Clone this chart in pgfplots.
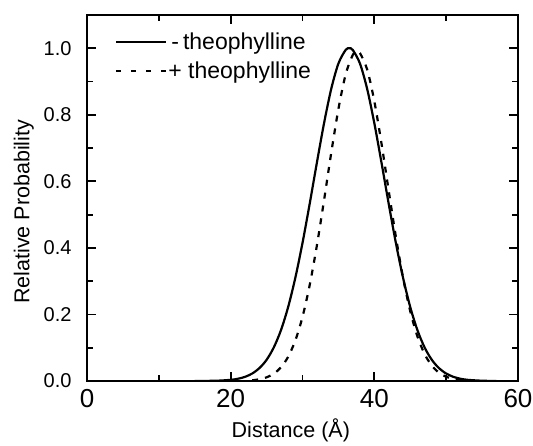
\documentclass[border=0pt]{standalone}
\usepackage{fontspec}
\setmainfont{Liberation Sans}
\usepackage{pgfplots}
\pgfplotsset{compat=1.18}
\usetikzlibrary{calc}

\pgfplotstableread{
x y
15 0.0001
18 0.0008
20 0.0035
21 0.0067
22 0.0125
23 0.0225
24 0.0386
25 0.0637
26 0.1007
27 0.1527
28 0.2221
29 0.3100
30 0.4148
31 0.5326
32 0.6559
33 0.7748
34 0.8780
35 0.9542
36 0.9948
36.5 1.0000
37 0.9948
38 0.9542
39 0.8780
40 0.7748
41 0.6559
42 0.5326
43 0.4148
44 0.3100
45 0.2221
46 0.1527
47 0.1007
48 0.0637
49 0.0386
50 0.0225
51 0.0125
52 0.0067
53 0.0035
55 0.0008
57 0.0001
}\minusdata

\pgfplotstableread{
x y
23 0.0020
24 0.0052
25 0.0110
26 0.0219
27 0.0410
28 0.0727
29 0.1217
30 0.1926
31 0.2880
32 0.4070
33 0.5434
34 0.6857
35 0.8173
36 0.9207
37 0.9800
37.6 0.9900
38 0.9855
39 0.9365
40 0.8408
41 0.7134
42 0.5719
43 0.4332
44 0.3101
45 0.2097
46 0.1340
47 0.0809
48 0.0462
49 0.0249
50 0.0127
51 0.0061
52 0.0025
}\plusdata

\begin{document}
\begin{tikzpicture}
\path[use as bounding box] (-87bp,-65bp) rectangle (446bp,381bp);
\begin{axis}[
  at={(0,0)}, anchor=south west,
  width=431bp, height=366bp, scale only axis,
  xmin=0, xmax=60, ymin=0, ymax=1.1,
  xtick={0,20,40,60}, minor xtick={10,30,50},
  ytick={0,0.2,0.4,0.6,0.8,1.0}, minor ytick={0.1,0.3,0.5,0.7,0.9},
  tick pos=both,
  tick align=inside,
  major tick length=9bp, minor tick length=6bp,
  every tick/.append style={line width=1.8bp, black},
  axis line style={line width=2.5bp},
  /pgf/number format/assume math mode=true,
  yticklabel style={font=\fontsize{20bp}{24bp}\selectfont, xshift=-12bp,
    /pgf/number format/.cd, fixed, fixed zerofill, precision=1},
  xticklabel style={font=\fontsize{26bp}{30bp}\selectfont, yshift=-5bp},
  xlabel={Distance (Å)},
  xlabel style={at={($(axis description cs:0.473,0)+(0,-56bp)$)}, anchor=base,
    font=\fontsize{21.5bp}{25bp}\selectfont},
  ylabel={Relative Probability},
  ylabel style={at={($(axis description cs:0,0.462)+(-57.7bp,0)$)}, anchor=base,
    font=\fontsize{21.5bp}{25bp}\selectfont},
  legend style={draw=none, fill=none, at={(axis description cs:0.065,0.955)},
    anchor=north west, font=\fontsize{23bp}{26bp}\selectfont,
    inner sep=0pt, row sep=9bp, nodes={inner xsep=1bp, inner ysep=1bp}},
  legend cell align=left,
]
\addplot[black, line width=2.2bp, smooth,
  legend image code/.code={\draw[black, line width=2.2bp] (0bp,0bp) -- (50bp,0bp);}]
  table[x=x,y=y] {\minusdata};
\addlegendentry{\hspace*{3bp}-\hspace{4bp}theophylline}
\addplot[black, line width=2.2bp, smooth, dash pattern=on 6bp off 7bp,
  legend image code/.code={\draw[black, line width=2.2bp, dash pattern=on 5bp off 10bp] (0bp,0bp) -- (50bp,0bp);}]
  table[x=x,y=y] {\plusdata};
\addlegendentry{+ theophylline}
\end{axis}
\end{tikzpicture}
\end{document}
